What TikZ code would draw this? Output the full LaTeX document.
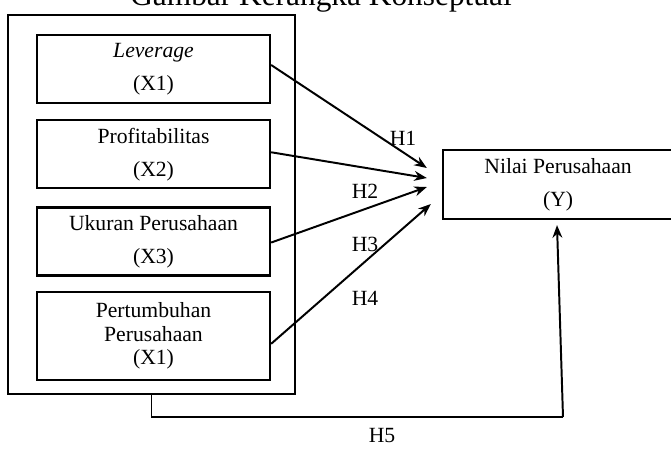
\documentclass[tikz,border=0pt]{standalone}
\usepackage{fontspec}
\setmainfont{Liberation Serif}
\usetikzlibrary{positioning, arrows.meta, calc}

\begin{document}
\begin{tikzpicture}[
    x=0.025cm, y=-0.025cm,
    >={Stealth[length=9pt, width=7pt]},
    font=\fontsize{15.4}{16.7}\selectfont,
    varbox/.style={draw, rectangle, line width=1.6pt, minimum width=5.825cm, minimum height=1.7cm, align=center, inner sep=0pt},
    groupbox/.style={draw, rectangle, line width=1.6pt, minimum width=7.175cm, minimum height=9.475cm},
    hlabel/.style={inner sep=1pt},
    link/.style={->, line width=1.4pt},
]
\useasboundingbox (0,0) rectangle (671,449);

% Title (cut at the top edge)
\node[font=\fontsize{22.3}{26}\selectfont, anchor=base] (title) at (321,5) {Gambar Kerangka Konseptual};

% Group of independent variables
\node[groupbox] (outer) at (151.5,204.5) {};

% Independent variables
\node[varbox] (lev) at (153.5,69) {\textit{Leverage}\\[6.8pt](X1)};
\node[varbox, below=0.375cm of lev] (prof) {Profitabilitas\\[6.8pt](X2)};
\node[varbox, below=0.425cm of prof] (ukur) {Ukuran Perusahaan\\[6.8pt](X3)};
\node[varbox, minimum height=2.2cm, below=0.35cm of ukur] (tumb) {Pertumbuhan\\Perusahaan\\(X1)};

% Dependent variable
\node[varbox, minimum width=6cm, minimum height=1.725cm] (nilai) at (563,184.5) {\hspace*{-7pt}Nilai Perusahaan\\[6.8pt]\hspace*{-7pt}(Y)};

% Hypotheses
\draw[link] ($(lev.east)+(0,-4)$) -- ($(nilai.west)+(-15,-16.5)$);
\draw[link] ($(prof.east)+(0,-2)$) -- ($(nilai.west)+(-15,-6.5)$);
\draw[link] ($(ukur.east)+(0,1)$) -- ($(nilai.west)+(-15,2.5)$);
\draw[link] ($(tumb.east)+(0,8)$) -- ($(nilai.west)+(-11,19.5)$);

\coordinate (h5corner) at (563,417);
\draw[line width=1.4pt] (outer.south) |- (h5corner);
\draw[link] (h5corner) -- ($(nilai.south)+(-6,5)$);

% Labels
\node[hlabel] (h1) at (403,138) {H1};
\node[hlabel] (h2) at (365,191) {H2};
\node[hlabel] (h3) at (365,244) {H3};
\node[hlabel] (h4) at (365,298) {H4};
\node[hlabel] (h5) at (382,436) {H5};

\end{tikzpicture}
\end{document}
